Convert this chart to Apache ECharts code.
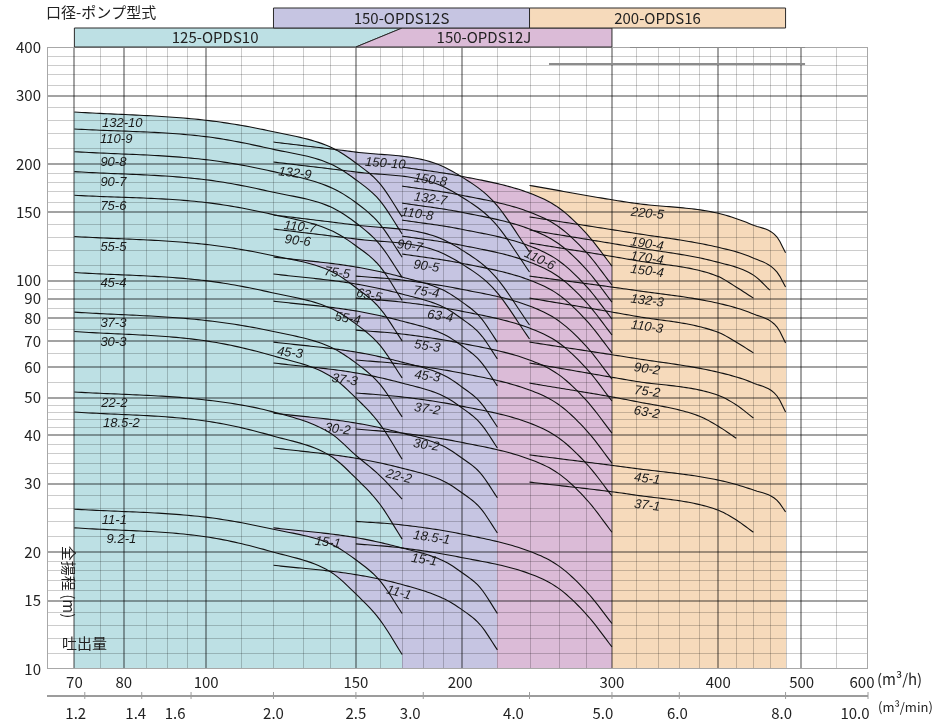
<!DOCTYPE html>
<html>
<head>
<meta charset="utf-8">
<title>Pump selection chart</title>
<script src="https://cdn.jsdelivr.net/npm/echarts@6.0.0/dist/echarts.min.js"></script>
<style>
html,body{margin:0;padding:0;background:#fff;}
#chart{width:938px;height:723px;}
</style>
</head>
<body>
<div id="chart"></div>
<script>
// ---------------- axes ----------------
const flowRange = [65, 600];   // m3/h
const headRange = [10, 400];   // m
const flowTickLabels = [70, 80, 100, 150, 200, 300, 400, 500, 600];
const flowLabelNudge = [0, 0, 0, 0, -2, 0, 0, 1, -6];
const flowMinTickLabels = [1.2, 1.4, 1.6, 2.0, 2.5, 3.0, 4.0, 5.0, 6.0, 8.0, 10.0];
const flowMinLabelNudge = [-9, -6, -16, 0, 0, -13, -16, -9, -2, -4, -13];
const headTickLabels = [10, 15, 20, 30, 40, 50, 60, 70, 80, 90, 100, 150, 200, 300, 400];
const flowGridMajor = [70, 80, 100, 150, 200, 300, 400, 500];
const flowGridMinor = [75, 85, 90, 95, 110, 120, 130, 140, 160, 170, 180, 190, 220, 240, 260, 280, 320, 340, 360, 380, 420, 440, 460, 480, 550];
const headGridMajor = [15, 20, 30, 40, 50, 60, 70, 80, 90, 100, 150, 200, 300];
const headGridMinor = [11, 12, 13, 14, 16, 17, 18, 19, 22, 24, 26, 28, 32, 34, 36, 38, 42, 44, 46, 48, 55, 65, 75, 85, 95, 110, 120, 130, 140, 160, 170, 180, 190, 220, 240, 260, 280, 320, 340, 360, 380];

// ---------------- families ----------------
const familyNames = ['125-OPDS10', '150-OPDS12S', '150-OPDS12J', '200-OPDS16'];
const familyColors = ['#bde0e4', '#c6c5e2', '#dbbbd7', '#f6dabb'];
const familyFloorUntil = [170, 220, 300, 480];
const legendFlow = [70, 120, 150, 170, 240, 300, 480];

// 125-OPDS10  (flow m3/h, head m)
const tealNames = ['132-10', '110-9', '90-8', '90-7', '75-6', '55-5', '45-4', '37-3', '30-3', '22-2', '18.5-2', '11-1', '9.2-1'];
const tealCurves = [
  [[70, 272], [100, 259], [120, 242], [140, 221], [150, 201], [160, 178], [170, 146]],
  [[70, 246], [100, 235], [120, 218], [140, 200], [150, 182], [160, 161], [170, 132]],
  [[70, 215], [100, 205], [120, 191], [140, 174], [150, 159], [160, 140], [170, 115]],
  [[70, 191], [100, 182], [120, 169], [140, 155], [150, 141], [160, 124], [170, 102]],
  [[70, 166], [100, 159], [120, 148], [140, 135], [150, 123], [160, 109], [170, 89]],
  [[70, 130], [100, 124], [120, 116], [140, 106], [150, 96], [160, 85], [170, 70]],
  [[70, 105], [100, 100], [120, 93], [140, 85], [150, 77.4], [160, 68.3], [170, 56.2]],
  [[70, 83], [100, 79], [120, 74], [140, 67.5], [150, 61.4], [160, 54.2], [170, 44.6]],
  [[70, 74], [100, 70], [120, 64], [140, 56.8], [150, 49.9], [160, 42.8], [170, 34.7]],
  [[70, 51.7], [100, 49.3], [120, 45.9], [140, 40.5], [150, 35.5], [160, 31.5], [170, 27.4]],
  [[70, 45.9], [100, 43.5], [120, 39.8], [140, 35.4], [150, 31.0], [160, 26.6], [170, 21.6]],
  [[70, 25.8], [100, 24.6], [120, 22.9], [140, 21.0], [150, 19.1], [160, 16.9], [170, 13.9]],
  [[70, 23.1], [100, 21.9], [120, 20.0], [140, 17.8], [150, 15.6], [160, 13.4], [170, 10.9]]
];
const tealLabelFlow = [79.7, 78.4, 77.8, 77.8, 77.8, 77.8, 77.8, 77.8, 77.8, 78, 79.5, 78, 79.5];

// 150-OPDS12S
const s12Names = ['150-10', '132-9', '110-7', '90-6', '75-5', '63-5', '55-4', '45-3', '37-3', '30-2', '22-2', '15-1', '11-1'];
const s12FlowLong = [120, 150, 184, 199, 218, 240];
const s12FlowShort = [120, 150, 170, 190, 200, 210, 220];
const s12Heads = [
  [227.6, 214.5, 202.2, 186.1, 159.5, 118.6],
  [202.2, 190.6, 179.6, 165.2, 141.6, 105.3],
  [147.7, 139.1, 131.1, 120.7, 103.4, 76.9],
  [135.9, 128.1, 120.7, 111.1, 95.2, 70.8],
  [115.1, 108.5, 102.2, 94.6, 88.1, 80.6, 69.5],
  [104.1, 98.1, 92.4, 85.6, 79.7, 72.9, 62.9],
  [88.6, 83.6, 78.7, 72.9, 67.9, 62.1, 53.6],
  [69.5, 65.5, 61.7, 57.2, 53.2, 48.7, 42.0],
  [61.4, 57.9, 54.5, 50.5, 47.0, 43.0, 37.1],
  [45.6, 43.0, 40.5, 37.5, 34.9, 32.0, 27.6],
  [37.1, 34.9, 32.9, 30.5, 28.4, 26.0, 22.4],
  [23.1, 21.8, 20.5, 19.0, 17.7, 16.2, 13.9],
  [18.5, 17.5, 16.5, 15.2, 14.2, 13.0, 11.2]
];
const s12LabelFlow = [162.7, 127.5, 129.3, 128.5, 143, 156.2, 147.2, 125.8, 146, 143.2, 169.5, 139.4, 169.5];
// where a 12S curve rises above its 125-OPDS10 partner, the band between them shows 12S
const s12OverTealPairs = [['150-10', '132-10'], ['132-9', '110-9'], ['110-7', '90-7'], ['90-6', '75-6'], ['75-5', '55-5'], ['63-5', '55-5'], ['55-4', '45-4'], ['45-3', '37-3'], ['37-3', '30-3'], ['30-2', '22-2'], ['22-2', '18.5-2'], ['15-1', '11-1'], ['11-1', '9.2-1']];

// 150-OPDS12J
const j12Names = ['150-8', '132-7', '110-8', '110-6', '90-7', '90-5', '75-4', '63-4', '55-3', '45-3', '37-2', '30-2', '18.5-1', '15-1'];
const j12FlowUpper = [170, 199, 240, 260, 281, 300];
const j12FlowLower = [150, 170, 199, 240, 260, 281, 300];
const j12Heads = [
  [196.2, 186.1, 168.2, 153.9, 131.1, 109.1],
  [175.3, 166.3, 150.3, 137.5, 117.2, 97.5],
  [158.5, 150.3, 135.9, 124.3, 105.9, 88.1],
  [143.3, 135.9, 122.9, 112.4, 95.8, 79.7],
  [130.3, 123.6, 111.7, 102.2, 87.1, 72.5],
  [117.2, 111.1, 100.4, 91.9, 78.3, 65.2],
  [102.8, 100.4, 95.2, 86.1, 78.7, 67.1, 55.8],
  [90.2, 88.1, 83.6, 75.5, 69.1, 58.9, 49.0],
  [74.6, 72.9, 69.1, 62.5, 57.2, 48.7, 40.5],
  [62.5, 61.0, 57.9, 52.3, 47.9, 40.8, 33.9],
  [51.4, 50.2, 47.6, 43.0, 39.3, 33.5, 27.9],
  [41.5, 40.5, 38.4, 34.7, 31.8, 27.1, 22.5],
  [24.0, 23.5, 22.3, 20.1, 18.4, 15.7, 13.1],
  [21.0, 20.5, 19.4, 17.6, 16.1, 13.7, 11.4]
];
const j12LabelFlow = [184.2, 184.2, 177.7, 249.3, 174.2, 182.1, 182.1, 189.2, 182.6, 182.6, 182.6, 182.1, 184.8, 181.1];

// 200-OPDS16
const o16Names = ['220-5', '190-4', '170-4', '150-4', '132-3', '110-3', '90-2', '75-2', '63-2', '45-1', '37-1'];
const o16Curves = [
  [[240, 176], [318, 158.5], [399, 149.4], [440, 139], [469, 129.6], [480, 118]],
  [[240, 146], [318, 132.7], [399, 122.1], [440, 114.4], [469, 105.3], [480, 96.3]],
  [[240, 135.1], [318, 122.1], [399, 111.7], [440, 103.4], [460, 94.6]],
  [[240, 125.1], [318, 113], [399, 102.8], [420, 96.3], [440, 90.2]],
  [[240, 102.8], [318, 94.6], [399, 87.6], [440, 82.1], [469, 76], [480, 69.1]],
  [[240, 90.2], [318, 81.2], [399, 73.8], [420, 69.5], [440, 65.2]],
  [[240, 69.5], [318, 63.2], [399, 58.2], [440, 54.5], [469, 50.5], [480, 45.9]],
  [[240, 61.4], [318, 55.2], [399, 50.8], [420, 47.9], [440, 44.3]],
  [[240, 54.5], [318, 49], [380, 44.8], [400, 42.2], [420, 39.3]],
  [[240, 35.6], [318, 32.9], [399, 30.7], [440, 28.9], [469, 27.2], [480, 25.4]],
  [[240, 30.3], [318, 28.1], [399, 25.7], [420, 24.2], [440, 22.5]]
];
const o16LabelFlow = [331, 331, 331, 331, 331, 331, 331, 331, 331, 331, 331];

// ---------------- helpers ----------------
function makeInterp(pts) {
  const xs = pts.map(p => Math.log10(p[0])), ys = pts.map(p => Math.log10(p[1]));
  const n = xs.length, d = [], m = [];
  for (let i = 0; i < n - 1; i++) d[i] = (ys[i + 1] - ys[i]) / (xs[i + 1] - xs[i]);
  m[0] = d[0]; m[n - 1] = d[n - 2];
  for (let i = 1; i < n - 1; i++) m[i] = (d[i - 1] * d[i] <= 0) ? 0 : (d[i - 1] + d[i]) / 2;
  for (let i = 0; i < n - 1; i++) {
    if (d[i] === 0) { m[i] = 0; m[i + 1] = 0; continue; }
    const a = m[i] / d[i], b = m[i + 1] / d[i], s = a * a + b * b;
    if (s > 9) { const t = 3 / Math.sqrt(s); m[i] = t * a * d[i]; m[i + 1] = t * b * d[i]; }
  }
  return function (q) {
    const x = Math.log10(q);
    let i = 0;
    while (i < n - 2 && x > xs[i + 1]) i++;
    const h = xs[i + 1] - xs[i], t = (x - xs[i]) / h;
    const t2 = t * t, t3 = t2 * t;
    const y = (2 * t3 - 3 * t2 + 1) * ys[i] + (t3 - 2 * t2 + t) * h * m[i] + (-2 * t3 + 3 * t2) * ys[i + 1] + (t3 - t2) * h * m[i + 1];
    return Math.pow(10, y);
  };
}

const curves = [];
function addFamily(fam, names, ptsList, labelFlow, rotate) {
  names.forEach((nm, i) => {
    const p = ptsList[i];
    curves.push({ fam: fam, name: nm, pts: p, q0: p[0][0], q1: p[p.length - 1][0], f: makeInterp(p), labelQ: labelFlow[i], rotate: rotate });
  });
}
const zipRow = (row, qA, qB) => {
  const qs = row.length === qA.length ? qA : qB;
  return row.map((h, i) => [qs[i], h]);
};
addFamily(0, tealNames, tealCurves, tealLabelFlow, false);
addFamily(1, s12Names, s12Heads.map(r => zipRow(r, s12FlowLong, s12FlowShort)), s12LabelFlow, true);
addFamily(2, j12Names, j12Heads.map(r => zipRow(r, j12FlowLower, j12FlowUpper)), j12LabelFlow, true);
addFamily(3, o16Names, o16Curves, o16LabelFlow, true);
function findCurve(fam, nm) {
  for (let i = 0; i < curves.length; i++) if (curves[i].fam === fam && curves[i].name === nm) return curves[i];
  return null;
}
const bandList = [];
s12OverTealPairs.forEach(p => {
  const u = findCurve(1, p[0]), l = findCurve(0, p[1]);
  if (u && l) bandList.push({ u: u, l: l });
});

const FONT = '"Noto Sans CJK JP", "Noto Sans", sans-serif';
function txt(s, x, y, align, size) {
  return { type: 'text', x: x, y: y, silent: true, style: { text: String(s), font: size + 'px ' + FONT, fill: '#222', align: align, verticalAlign: 'middle', textAlign: align, textVerticalAlign: 'middle' } };
}

// ---------------- base shading (per 1px column) ----------------
const SLICES = 821;
const sliceData = [];
for (let k = 0; k < SLICES; k++) sliceData.push([flowRange[0], headRange[0], k]);
function isActive(c, q) { return q >= c.q0 && q <= c.q1; }

function renderShade(params, api) {
  const k = api.value(2);
  const l0 = Math.log10(flowRange[0]), l1 = Math.log10(flowRange[1]);
  const qa = Math.pow(10, l0 + (l1 - l0) * k / SLICES);
  const qb = Math.pow(10, l0 + (l1 - l0) * (k + 1) / SLICES);
  const qm = Math.sqrt(qa * qb);
  const xa = Math.round(api.coord([qa, headRange[0]])[0]);
  const xb = Math.round(api.coord([qb, headRange[0]])[0]);
  if (xb <= xa) return null;
  const ch = [];
  const hiH = [-1, -1, -1, -1], loH = [1e9, 1e9, 1e9, 1e9];
  for (let i = 0; i < curves.length; i++) {
    const c = curves[i];
    if (!isActive(c, qm)) continue;
    const h = c.f(qm);
    if (h > hiH[c.fam]) hiH[c.fam] = h;
    if (h < loH[c.fam]) loH[c.fam] = h;
  }
  const order = [3, 2, 1, 0];
  for (let j = 0; j < order.length; j++) {
    const fam = order[j];
    if (hiH[fam] < 0) continue;
    const floor = qm <= familyFloorUntil[fam] ? headRange[0] : loH[fam];
    const y0 = api.coord([qm, hiH[fam]])[1], y1 = api.coord([qm, floor])[1];
    ch.push({ type: 'rect', shape: { x: xa, y: y0, width: xb - xa, height: y1 - y0 }, style: { fill: familyColors[fam] } });
  }
  return { type: 'group', children: ch };
}

// 12S bands drawn over the 125-OPDS10 area
function bandPolygons(api) {
  const out = [];
  bandList.forEach(b => {
    const qs = Math.max(b.u.q0, b.l.q0), qe = Math.min(b.u.q1, b.l.q1);
    if (qe <= qs) return;
    const K = 160;
    let cur = null;
    const polys = [];
    for (let i = 0; i <= K; i++) {
      const q = qs * Math.pow(qe / qs, i / K);
      const hu = b.u.f(q), hl = b.l.f(q);
      if (hu > hl) {
        if (!cur) { cur = { up: [], lo: [] }; polys.push(cur); }
        cur.up.push(api.coord([q, hu]));
        cur.lo.push(api.coord([q, hl]));
      } else {
        cur = null;
      }
    }
    polys.forEach(p => {
      if (p.up.length < 2) return;
      out.push({ type: 'polygon', shape: { points: p.up.concat(p.lo.slice().reverse()) }, style: { fill: familyColors[b.u.fam], stroke: familyColors[b.u.fam], lineWidth: 0.8 } });
    });
  });
  return out;
}

// ---------------- bands + grid ----------------
function renderGrid(params, api) {
  const pBL = api.coord([flowRange[0], headRange[0]]);
  const pTR = api.coord([flowRange[1], headRange[1]]);
  const xl = pBL[0], yb = pBL[1], xr = pTR[0], yt = pTR[1];
  const ch = bandPolygons(api);
  const minorC = 'rgba(0,0,0,0.2)', majorC = 'rgba(0,0,0,0.36)';
  flowGridMinor.forEach(q => { const x = Math.round(api.coord([q, headRange[0]])[0]) + 0.5; ch.push({ type: 'line', shape: { x1: x, y1: yt, x2: x, y2: yb }, style: { stroke: minorC, lineWidth: 1 } }); });
  headGridMinor.forEach(h => { const y = Math.round(api.coord([flowRange[0], h])[1]) + 0.5; ch.push({ type: 'line', shape: { x1: xl, y1: y, x2: xr, y2: y }, style: { stroke: minorC, lineWidth: 1 } }); });
  flowGridMajor.forEach(q => { const x = Math.round(api.coord([q, headRange[0]])[0]); ch.push({ type: 'line', shape: { x1: x, y1: yt, x2: x, y2: yb }, style: { stroke: majorC, lineWidth: 2 } }); });
  headGridMajor.forEach(h => { const y = Math.round(api.coord([flowRange[0], h])[1]); ch.push({ type: 'line', shape: { x1: xl, y1: y, x2: xr, y2: y }, style: { stroke: majorC, lineWidth: 2 } }); });
  ch.push({ type: 'rect', shape: { x: Math.round(xl), y: Math.round(yt), width: Math.round(xr - xl), height: Math.round(yb - yt) }, style: { fill: null, stroke: '#a8a8a8', lineWidth: 2 } });
  const xa = api.coord([253, headRange[1]])[0], xb = api.coord([506, headRange[1]])[0], xc = api.coord([315, headRange[1]])[0];
  const y360 = Math.round(api.coord([flowRange[0], 361])[1]);
  ch.push({ type: 'line', shape: { x1: xa, y1: y360, x2: xb, y2: y360 }, style: { stroke: '#8c8c8c', lineWidth: 2 } });
  ch.push({ type: 'line', shape: { x1: xc, y1: Math.round(yt), x2: xb, y2: Math.round(yt) }, style: { stroke: '#8c8c8c', lineWidth: 2 } });
  return { type: 'group', children: ch };
}

// ---------------- curves + labels ----------------
const curveData = curves.map((c, i) => [flowRange[0], headRange[0], i]);
function renderCurve(params, api) {
  const c = curves[api.value(2)];
  const pts = [];
  const M = 90;
  for (let i = 0; i <= M; i++) {
    const q = c.q0 * Math.pow(c.q1 / c.q0, i / M);
    pts.push(api.coord([q, c.f(q)]));
  }
  const ch = [{ type: 'polyline', shape: { points: pts }, style: { stroke: '#111', lineWidth: 1.1, fill: null } }];
  const q = Math.min(Math.max(c.labelQ, c.q0), c.q1);
  const p = api.coord([q, c.f(q)]);
  const qa = Math.max(q / 1.015, c.q0), qb = Math.min(q * 1.015, c.q1);
  const pa = api.coord([qa, c.f(qa)]), pb = api.coord([qb, c.f(qb)]);
  const ang = c.rotate ? Math.atan2(pb[1] - pa[1], pb[0] - pa[0]) : 0;
  const off = 9;
  ch.push({
    type: 'text', x: p[0] - Math.sin(ang) * off, y: p[1] + Math.cos(ang) * off, rotation: -ang,
    style: { text: c.name, font: 'italic 13px "Liberation Sans", "DejaVu Sans", sans-serif', fill: '#1a1a1a', align: 'center', verticalAlign: 'middle', textAlign: 'center', textVerticalAlign: 'middle' }
  });
  return { type: 'group', children: ch };
}

// ---------------- axes text, second axis, legend boxes ----------------
function renderDecor(params, api) {
  const pBL = api.coord([flowRange[0], headRange[0]]);
  const pTR = api.coord([flowRange[1], headRange[1]]);
  const xl = pBL[0], yb = pBL[1], xr = pTR[0], yt = pTR[1];
  const ch = [];
  headTickLabels.forEach(h => { ch.push(txt(h, xl - 6, api.coord([flowRange[0], h])[1], 'right', 15)); });
  flowTickLabels.forEach((q, i) => { ch.push(txt(q, api.coord([q, headRange[0]])[0] + flowLabelNudge[i], yb + 13, 'center', 15)); });
  const y2 = Math.round(yb + 27);
  ch.push({ type: 'line', shape: { x1: xl, y1: y2, x2: xr, y2: y2 }, style: { stroke: '#9c9c9c', lineWidth: 2 } });
  flowMinTickLabels.forEach((v, i) => {
    const x = api.coord([v * 60, headRange[0]])[0];
    ch.push({ type: 'line', shape: { x1: x, y1: y2 - 4, x2: x, y2: y2 + 3 }, style: { stroke: '#9c9c9c', lineWidth: 1 } });
    ch.push(txt(v.toFixed(1), x + flowMinLabelNudge[i], yb + 44, 'center', 15));
  });
  const X = q => api.coord([q, headRange[1]])[0];
  const r2 = yt - 19, r1 = yt - 39;
  const poly = (pts, fill) => ({ type: 'polygon', shape: { points: pts }, style: { fill: fill, stroke: '#2a2a2a', lineWidth: 1 } });
  const [q70, q120, q150, q170, q240, q300, q480] = legendFlow;
  ch.push(poly([[X(q70), r2], [X(q170), r2], [X(q150), yt], [X(q70), yt]], familyColors[0]));
  ch.push(poly([[X(q170), r2], [X(q300), r2], [X(q300), yt], [X(q150), yt]], familyColors[2]));
  ch.push(poly([[X(q120), r1], [X(q240), r1], [X(q240), r2], [X(q120), r2]], familyColors[1]));
  ch.push(poly([[X(q240), r1], [X(q480), r1], [X(q480), r2], [X(q240), r2]], familyColors[3]));
  ch.push(txt(familyNames[0], (X(q70) + X(q150)) / 2, (r2 + yt) / 2, 'center', 15));
  ch.push(txt(familyNames[2], (X(q150) + X(q300)) / 2, (r2 + yt) / 2, 'center', 15));
  ch.push(txt(familyNames[1], (X(q120) + X(q240)) / 2, (r1 + r2) / 2, 'center', 15));
  ch.push(txt(familyNames[3], (X(q240) + X(q480)) / 2, (r1 + r2) / 2, 'center', 15));
  return { type: 'group', children: ch };
}

const chart = echarts.init(document.getElementById('chart'), null, { renderer: 'canvas' });
const hiddenAxis = { axisLine: { show: false }, axisTick: { show: false }, axisLabel: { show: false }, splitLine: { show: false } };
chart.setOption({
  animation: false,
  backgroundColor: '#fff',
  grid: { left: 47, right: 70, top: 47, bottom: 54 },
  xAxis: Object.assign({ type: 'log', logBase: 10, min: flowRange[0], max: flowRange[1] }, hiddenAxis),
  yAxis: Object.assign({ type: 'log', logBase: 10, min: headRange[0], max: headRange[1] }, hiddenAxis),
  graphic: [
    { type: 'text', z: 100, left: 46, top: 5, style: { text: '口径-ポンプ型式', font: '15px ' + FONT, fill: '#222' } },
    { type: 'text', z: 100, x: 69, y: 582, rotation: -Math.PI / 2, style: { text: '全揚程 (m)', font: '15px ' + FONT, fill: '#222', align: 'center', verticalAlign: 'middle', textAlign: 'center', textVerticalAlign: 'middle' } },
    { type: 'text', z: 100, left: 62, top: 636, style: { text: '吐出量', font: '15px ' + FONT, fill: '#222' } },
    { type: 'text', z: 100, left: 877, top: 672, style: { text: '(m³/h)', font: '15px ' + FONT, fill: '#222' } },
    { type: 'text', z: 100, left: 878, top: 701, style: { text: '(m³/min)', font: '13px ' + FONT, fill: '#222' } }
  ],
  series: [
    { type: 'custom', name: 'shade', coordinateSystem: 'cartesian2d', renderItem: renderShade, data: sliceData, z: 1, clip: true },
    { type: 'custom', name: 'grid', coordinateSystem: 'cartesian2d', renderItem: renderGrid, data: [[flowRange[0], headRange[0], 0]], z: 3, clip: true },
    { type: 'custom', name: 'curves', coordinateSystem: 'cartesian2d', renderItem: renderCurve, data: curveData, z: 4 },
    { type: 'custom', name: 'decor', coordinateSystem: 'cartesian2d', renderItem: renderDecor, data: [[flowRange[0], headRange[0], 0]], z: 5, clip: false }
  ]
});
</script>
</body>
</html>
